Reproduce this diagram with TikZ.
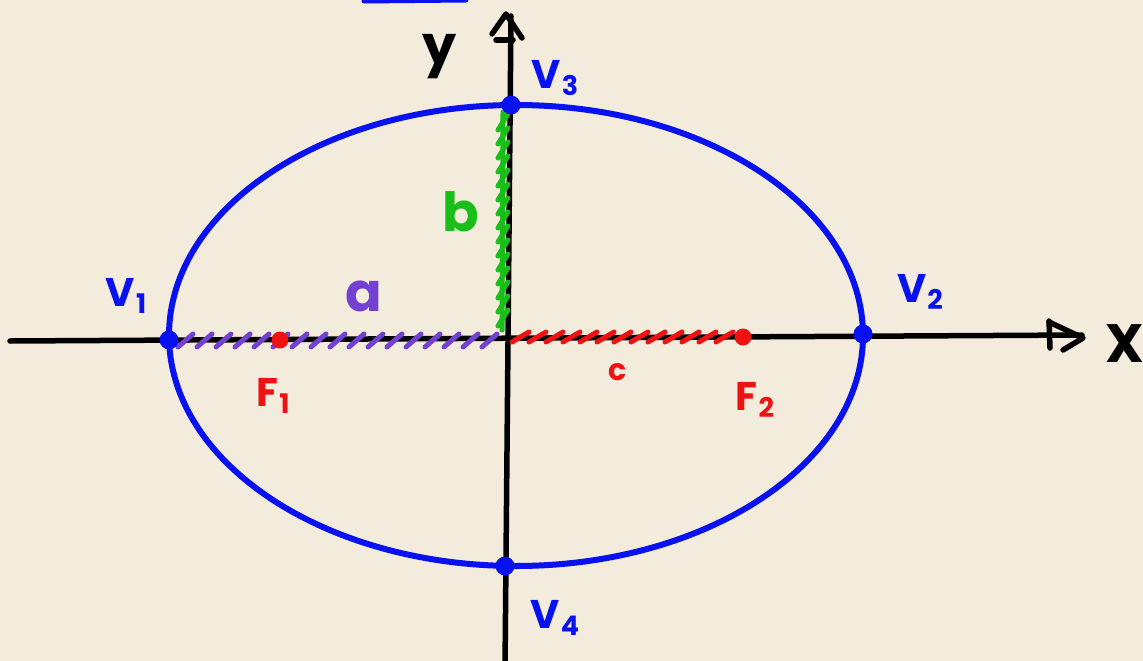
\documentclass[tikz,border=0pt]{standalone}
\usepackage{fontspec}
\setmainfont{Poppins}
\definecolor{bg}{RGB}{243,235,220}
\definecolor{pblue}{RGB}{8,18,240}
\definecolor{pred}{RGB}{240,18,18}
\definecolor{pgreen}{RGB}{25,190,25}
\definecolor{ppurple}{RGB}{115,65,210}
\newcommand{\sub}[1]{\kern1pt\raisebox{-0.18em}{\fontsize{27}{27}\selectfont #1}}
\begin{document}
\begin{tikzpicture}[x=1pt,y=-1pt,line cap=round,line join=round,
  vdot/.style={circle,fill=pblue,inner sep=0pt,minimum size=19pt},
  fdot/.style={circle,fill=pred,inner sep=0pt,minimum size=17pt},
  lab/.style={inner sep=0pt,font=\fontsize{40}{40}\selectfont\bfseries},
  biglab/.style={inner sep=0pt,font=\fontsize{54}{54}\selectfont\bfseries},
  axisline/.style={line width=5.5pt,black},
  hatch/.style={line width=5pt}]
\fill[bg] (0,0) rectangle (1143,661);
\useasboundingbox (0,0) rectangle (1143,661);
% stray blue stroke at the top
\draw[pblue,line width=5pt] (364,1) -- (466,0);
% axes
\coordinate (xl) at (10,341);
\coordinate (xr) at (1082,335);
\coordinate (yt) at (511,16);
\coordinate (yb) at (505,668);
\draw[axisline] (xl) -- (xr);
\draw[axisline] (yt) -- (yb);
\draw[axisline] (1049,321) -- (1050,348);
\draw[axisline] (1049,322) -- (1083,338) -- (1063,350);
\draw[axisline] (492,34) -- (506,14) -- (522,38);
\draw[axisline] (496,40) -- (513,40);
% hatching
\foreach \x in {178,197,...,490} \draw[hatch,ppurple] (\x,347) -- (\x+15,334);
\foreach \x in {512,529,...,722} \draw[hatch,pred] (\x,342) -- (\x+17,332);
\draw[hatch,pgreen] (503,112) -- (502,330);
\foreach \y in {122,136,...,325} \draw[hatch,pgreen] (498,\y+8) -- (508,\y-8);
% ellipse
\draw[pblue,line width=6pt] (516,335.5) ellipse [x radius=347,y radius=230.5];
% points
\node[vdot] (v1) at (169,340) {};
\node[vdot] (v2) at (863,334) {};
\node[vdot] (v3) at (511,105) {};
\node[vdot] (v4) at (505,566) {};
\node[fdot] (f1) at (280,340) {};
\node[fdot] (f2) at (743,337) {};
% labels
\node[lab,text=pblue] (lv1) at (126,296) {V\sub{1}};
\node[lab,text=pblue] (lv2) at (920,292) {V\sub{2}};
\node[lab,text=pblue] (lv3) at (555,78) {V\sub{3}};
\node[lab,text=pblue] (lv4) at (555,618) {V\sub{4}};
\node[lab,text=pred] (lf1) at (273,396) {F\sub{1}};
\node[lab,text=pred] (lf2) at (755,400) {F\sub{2}};
\node[biglab,text=ppurple] (la) at (364,296) {a};
\node[biglab,text=pgreen] (lb) at (461,212) {b};
\node[lab,text=pred,font=\fontsize{30}{30}\selectfont\bfseries] (lc) at (618,372) {c};
\node[biglab] (ly) at (440,57) {y};
\node[biglab] (lx) at (1125,344) {X};
\end{tikzpicture}
\end{document}
